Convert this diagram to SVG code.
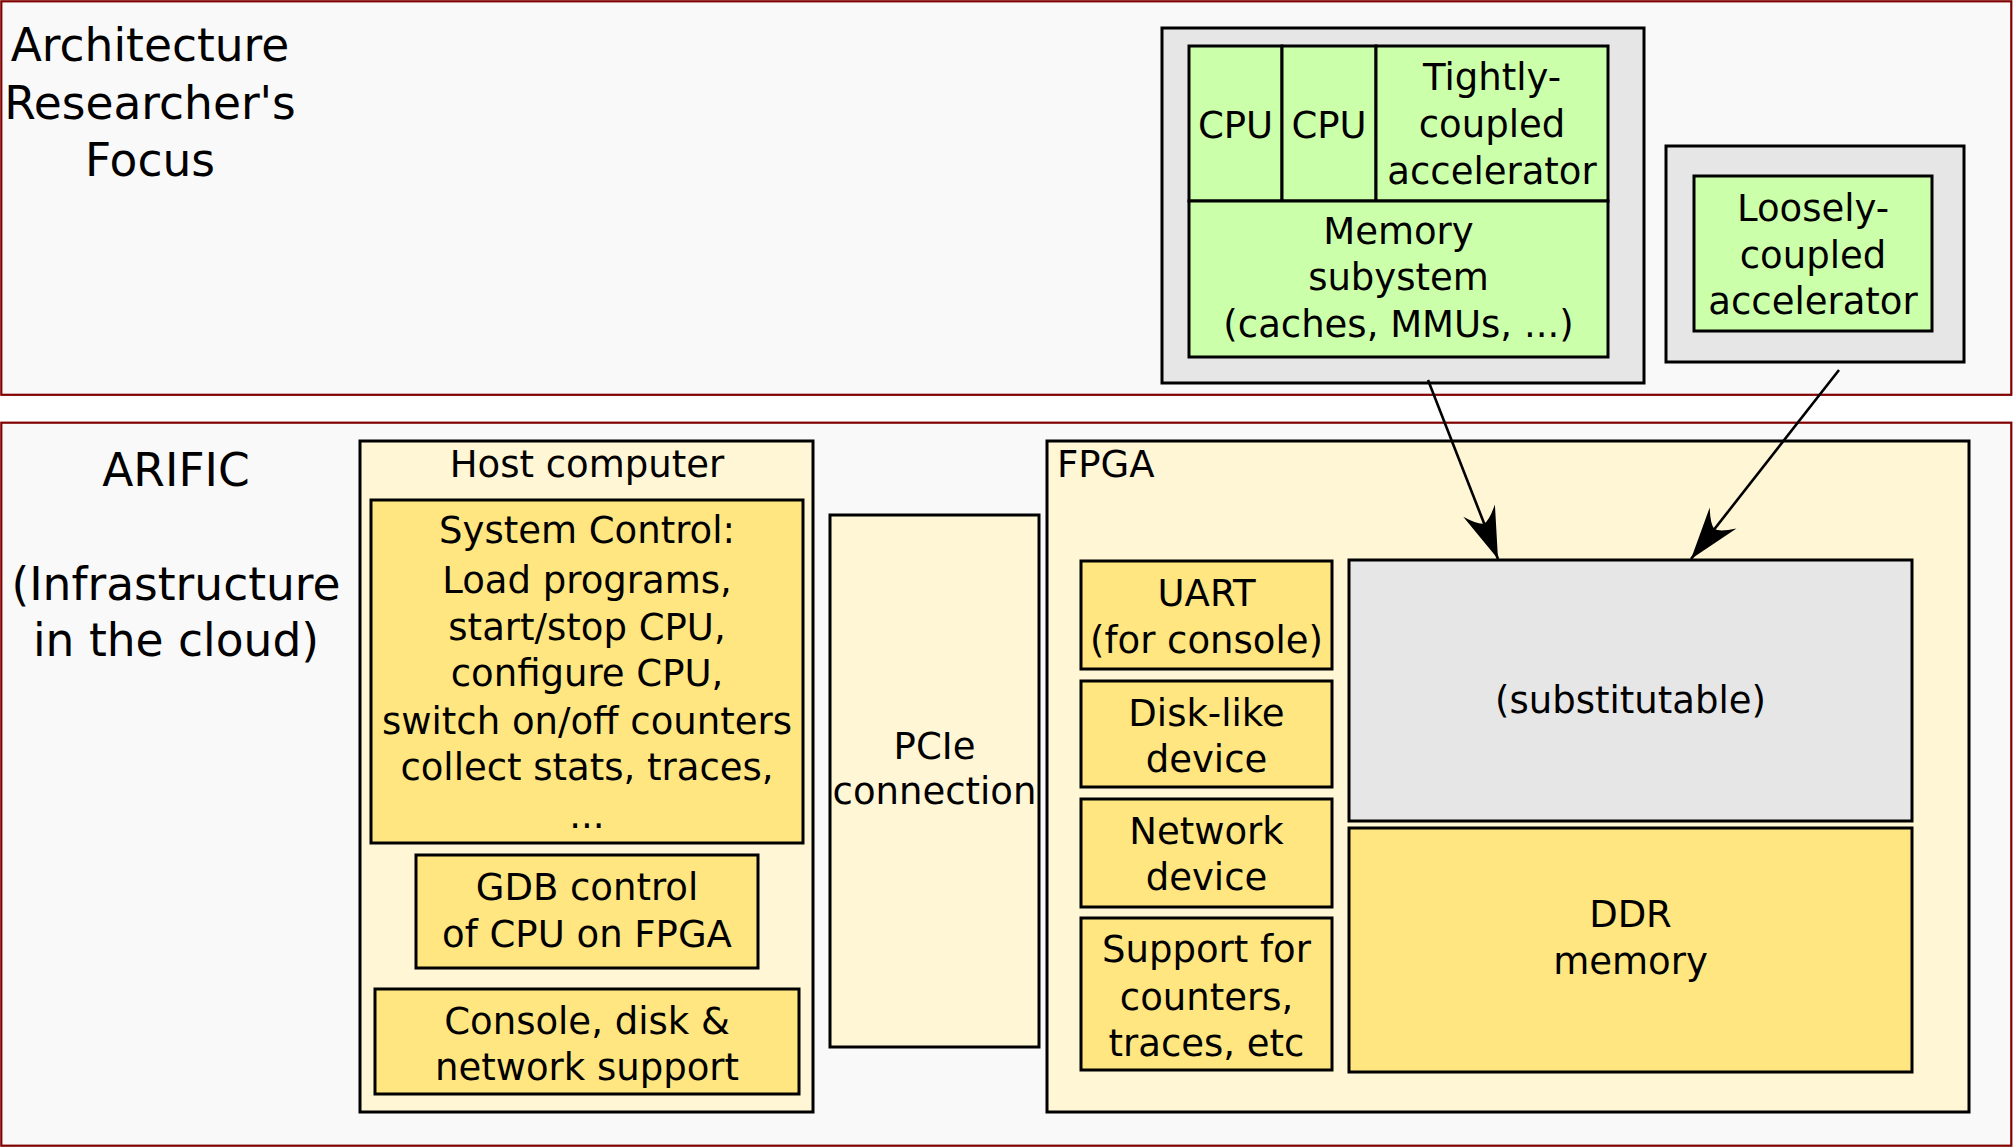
<svg xmlns="http://www.w3.org/2000/svg" width="2014" height="1148" viewBox="0 0 2014 1148">
<style>
text{font-family:"DejaVu Sans","Liberation Sans",sans-serif;font-size:37px;fill:#000;text-anchor:middle}
.big{font-size:45.5px}
.l{text-anchor:start}
.panel{fill:#f9f9f9;stroke:#800000;stroke-width:2.2}
.box{stroke:#000;stroke-width:3}
.gray{fill:#e6e6e6}
.green{fill:#ccffaa}
.ly{fill:#fff6d5}
.y{fill:#ffe680}
.conn{stroke:#000;stroke-width:2.6;fill:none}
</style>
<defs>
<marker id="ah" markerUnits="userSpaceOnUse" markerWidth="60" markerHeight="40" viewBox="-55 -20 60 40" refX="0" refY="0" orient="auto">
<path d="M0,0 L-52,-17 Q-39,-6 -38,0 Q-39,6 -52,17 Z" fill="#000"/>
</marker>
</defs>
<rect width="2014" height="1148" fill="#fff"/>
<g id="panel-top">
<rect class="panel" x="1.3" y="1.3" width="2010" height="393.5"/>
<text class="big" x="150" y="61">Architecture</text>
<text class="big" x="150" y="119">Researcher's</text>
<text class="big" x="150" y="176">Focus</text>
</g>
<g id="panel-bottom">
<rect class="panel" x="1.3" y="422.7" width="2010" height="723"/>
<text class="big" x="176" y="486">ARIFIC</text>
<text class="big" x="176" y="600">(Infrastructure</text>
<text class="big" x="176" y="656">in the cloud)</text>
</g>
<g id="cpu-cluster">
<rect class="box gray" x="1162" y="28" width="482" height="355"/>
</g>
<g id="cpu1">
<rect class="box green" x="1189" y="46" width="93" height="155"/>
<text x="1235.5" y="138">CPU</text>
</g>
<g id="cpu2">
<rect class="box green" x="1282" y="46" width="94" height="155"/>
<text x="1329" y="138">CPU</text>
</g>
<g id="tightly">
<rect class="box green" x="1376" y="46" width="232" height="155"/>
<text x="1492" y="90">Tightly-</text>
<text x="1492" y="137">coupled</text>
<text x="1492" y="184">accelerator</text>
</g>
<g id="memory-subsystem">
<rect class="box green" x="1189" y="201" width="419" height="156"/>
<text x="1398.5" y="244">Memory</text>
<text x="1398.5" y="290">subystem</text>
<text x="1398.5" y="337">(caches, MMUs, ...)</text>
</g>
<g id="loosely-outer">
<rect class="box gray" x="1666" y="146" width="298" height="216"/>
</g>
<g id="loosely">
<rect class="box green" x="1694" y="176" width="238" height="155"/>
<text x="1813" y="221">Loosely-</text>
<text x="1813" y="268">coupled</text>
<text x="1813" y="314">accelerator</text>
</g>
<g id="host">
<rect class="box ly" x="360" y="441" width="453" height="671"/>
<text x="587" y="477">Host computer</text>
</g>
<g id="system-control">
<rect class="box y" x="371" y="500" width="432" height="343"/>
<text x="587" y="543">System Control:</text>
<text x="587" y="593">Load programs,</text>
<text x="587" y="640">start/stop CPU,</text>
<text x="587" y="686">configure CPU,</text>
<text x="587" y="734">switch on/off counters</text>
<text x="587" y="780">collect stats, traces,</text>
<text x="587" y="828">...</text>
</g>
<g id="gdb">
<rect class="box y" x="416" y="855" width="342" height="113"/>
<text x="587" y="900">GDB control</text>
<text x="587" y="947">of CPU on FPGA</text>
</g>
<g id="console">
<rect class="box y" x="375" y="989" width="424" height="105"/>
<text x="587" y="1034">Console, disk &amp;</text>
<text x="587" y="1080">network support</text>
</g>
<g id="pcie">
<rect class="box ly" x="830" y="515" width="209" height="532"/>
<text x="934.5" y="759">PCIe</text>
<text x="934.5" y="804">connection</text>
</g>
<g id="fpga">
<rect class="box ly" x="1047" y="441" width="922" height="671"/>
<text class="l" x="1057" y="477">FPGA</text>
</g>
<g id="uart">
<rect class="box y" x="1081" y="561" width="251" height="108"/>
<text x="1206.5" y="606">UART</text>
<text x="1206.5" y="653">(for console)</text>
</g>
<g id="disk">
<rect class="box y" x="1081" y="681" width="251" height="106"/>
<text x="1206.5" y="726">Disk-like</text>
<text x="1206.5" y="772">device</text>
</g>
<g id="network">
<rect class="box y" x="1081" y="799" width="251" height="108"/>
<text x="1206.5" y="844">Network</text>
<text x="1206.5" y="890">device</text>
</g>
<g id="support">
<rect class="box y" x="1081" y="918" width="251" height="152"/>
<text x="1206.5" y="962">Support for</text>
<text x="1206.5" y="1010">counters,</text>
<text x="1206.5" y="1056">traces, etc</text>
</g>
<g id="substitutable">
<rect class="box gray" x="1349" y="560" width="563" height="261"/>
<text x="1630.5" y="713">(substitutable)</text>
</g>
<g id="ddr">
<rect class="box y" x="1349" y="828" width="563" height="244"/>
<text x="1630.5" y="927">DDR</text>
<text x="1630.5" y="974">memory</text>
</g>
<g id="connectors">
<line class="conn" x1="1428" y1="380" x2="1498" y2="559" marker-end="url(#ah)"/>
<line class="conn" x1="1839" y1="370" x2="1691" y2="559" marker-end="url(#ah)"/>
</g>
</svg>
